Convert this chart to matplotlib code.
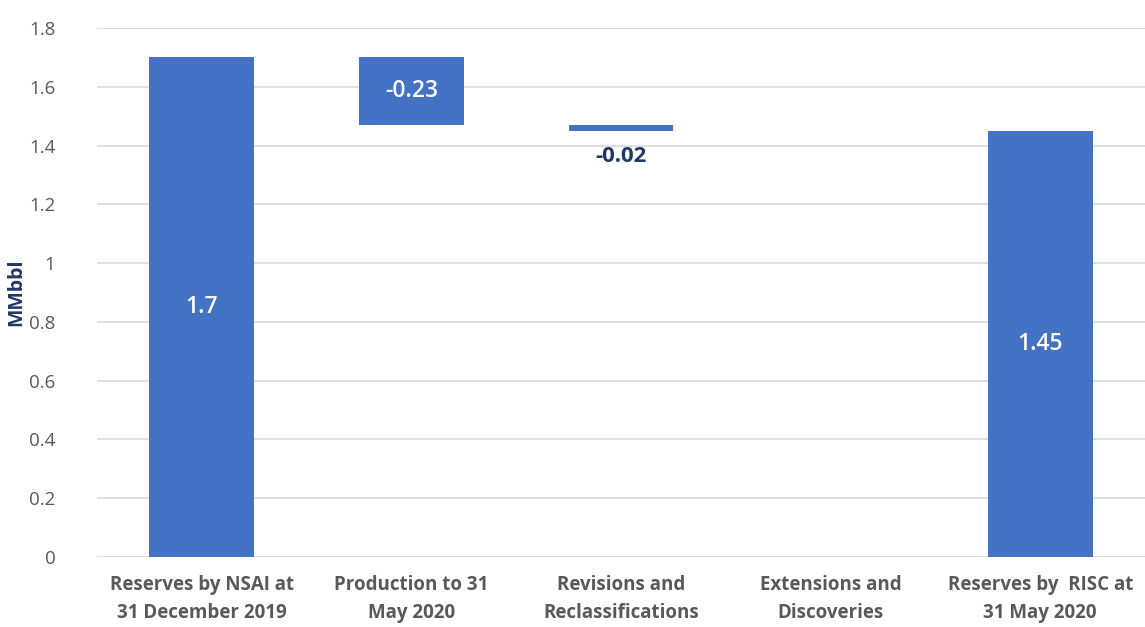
import numpy as np
import matplotlib.pyplot as plt

categories = ['Reserves by NSAI at\n31 December 2019', 'Production to 31\nMay 2020',
              'Revisions and\nReclassifications', 'Extensions and\nDiscoveries',
              'Reserves by  RISC at\n31 May 2020']
changes = [1.70, -0.23, -0.02, 0.0, 1.45]
is_total = [True, False, False, False, True]
labels = ['1.7', '-0.23', '-0.02', '0', '1.45']

plt.rcParams['font.family'] = ['Open Sans', 'DejaVu Sans']

fig = plt.figure(figsize=(11.45, 6.27), dpi=100)
ax = fig.add_axes([0.0847, 0.1116, 0.9153, 0.8437])

blue = '#4472C4'
navy = '#1F3864'
x = np.arange(len(categories))

running = 0.0
bottoms, heights = [], []
for c, tot in zip(changes, is_total):
    if tot:
        bottoms.append(0.0)
        heights.append(c)
        running = c
    else:
        bottoms.append(running + c)
        heights.append(-c)
        running = running + c

ax.bar(x, heights, bottom=bottoms, width=0.5, color=blue, zorder=3)

for i, (b, h, lab) in enumerate(zip(bottoms, heights, labels)):
    if h > 0.1:
        ax.text(i, b + h / 2, lab, ha='center', va='center', color='white',
                fontsize=16.5, fontweight='semibold', zorder=4)
    elif i == 2:
        ax.text(i, b - 0.05, lab, ha='center', va='top', color=navy,
                fontsize=16, fontweight='bold', zorder=4)
    else:
        ax.text(i, b, lab, ha='center', va='center', color='white',
                fontsize=5, zorder=4)

ax.set_xlim(-0.5, 4.5)
ax.set_ylim(0, 1.8)
ax.set_yticks(np.arange(0, 1.81, 0.2))
ax.set_yticklabels(['0', '0.2', '0.4', '0.6', '0.8', '1', '1.2', '1.4', '1.6', '1.8'])
ax.set_xticks(x)
ax.set_xticklabels(categories, fontsize=13.5, fontweight='bold', color='#595959',
                   linespacing=1.55)
ax.tick_params(axis='y', colors='#595959', labelsize=13.5, length=0, pad=30)
ax.tick_params(axis='x', length=0, pad=13)
ax.grid(axis='y', color='#D9D9D9', linewidth=1.2, zorder=0)
for s in ax.spines.values():
    s.set_visible(False)
ax.set_ylabel('MMbbl', fontsize=14, fontweight='bold', color=navy, labelpad=2)

fig.savefig('out.png', dpi=100)
